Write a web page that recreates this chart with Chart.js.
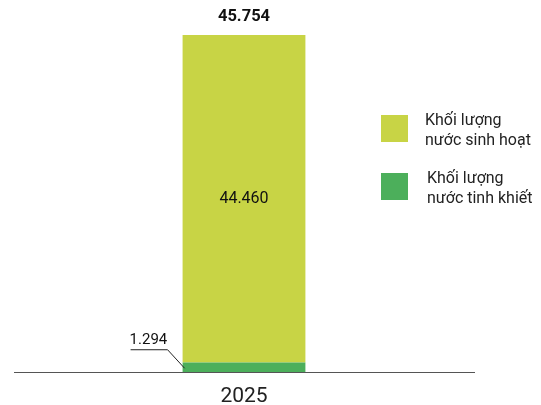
<!DOCTYPE html>
<html><head><meta charset="utf-8">
<script src="https://cdn.jsdelivr.net/npm/chart.js@4/dist/chart.umd.min.js"></script>
<style>html,body{margin:0;padding:0;background:#fff}#wrap{width:541px;height:405px}</style>
</head><body><div id="wrap"><canvas id="c" width="541" height="405"></canvas></div>
<script>
const categories = ["2025"];
const seriesNames = [["Khối lượng", "nước tinh khiết"], ["Khối lượng", "nước sinh hoạt"]];
const pureWater = [1.294];
const domesticWater = [44.46];
const totals = [45.754];
const fmt = v => v.toFixed(3);
const colors = {pure: "#4caf5b", domestic: "#c8d445"};
const FONT = "Roboto, 'Liberation Sans', sans-serif";

const overlay = {
  id: "overlay",
  afterDatasetsDraw(chart) {
    const ctx = chart.ctx;
    const m0 = chart.getDatasetMeta(0).data[0];
    const m1 = chart.getDatasetMeta(1).data[0];
    ctx.save();
    ctx.fillStyle = "#111";
    ctx.textAlign = "center";
    ctx.textBaseline = "bottom";
    ctx.font = "bold 16.5px " + FONT;
    ctx.fillText(fmt(totals[0]), m1.x, m1.y - 10);
    ctx.font = "16px " + FONT;
    ctx.textBaseline = "middle";
    ctx.fillText(fmt(domesticWater[0]), m1.x, (m1.y + m1.base) / 2);
    const left = m0.x - m0.width / 2;
    const segMid = (m0.y + m0.base) / 2;
    ctx.strokeStyle = "#222";
    ctx.lineWidth = 1;
    ctx.beginPath();
    ctx.moveTo(left - 52, segMid - 17.5);
    ctx.lineTo(left - 15, segMid - 17.5);
    ctx.lineTo(left + 2, segMid + 1);
    ctx.stroke();
    ctx.textAlign = "left";
    ctx.textBaseline = "bottom";
    ctx.font = "15px " + FONT;
    ctx.fillText(fmt(pureWater[0]), left - 53, segMid - 19);
    const items = [[colors.domestic, seriesNames[1]], [colors.pure, seriesNames[0]]];
    items.forEach((it, i) => {
      const y = 115 + i * 58;
      ctx.fillStyle = it[0];
      ctx.fillRect(381, y, 27, 27);
      ctx.fillStyle = "#222";
      ctx.font = "16px " + FONT;
      ctx.textBaseline = "middle";
      ctx.fillText(it[1][0], 425 + i * 2, y + 6);
      ctx.fillText(it[1][1], 425 + i * 2, y + 26);
    });
    ctx.restore();
  }
};

new Chart(document.getElementById("c"), {
  type: "bar",
  data: {
    labels: categories,
    datasets: [
      {label: seriesNames[0].join(" "), data: pureWater, backgroundColor: colors.pure, barPercentage: 1, categoryPercentage: 0.267},
      {label: seriesNames[1].join(" "), data: domesticWater, backgroundColor: colors.domestic, barPercentage: 1, categoryPercentage: 0.267}
    ]
  },
  options: {
    responsive: false,
    animation: false,
    events: [],
    layout: {padding: {left: 14, right: 67, top: 35, bottom: 0}},
    plugins: {legend: {display: false}, tooltip: {enabled: false}},
    scales: {
      x: {
        stacked: true,
        grid: {display: false, drawTicks: false},
        border: {display: true, color: "#555", width: 1},
        ticks: {color: "#222", font: {size: 21, family: FONT}, padding: 12},
        afterFit(s) { s.height = 33; }
      },
      y: {stacked: true, display: false, min: 0, max: totals[0]}
    }
  },
  plugins: [overlay]
});
</script></body></html>
